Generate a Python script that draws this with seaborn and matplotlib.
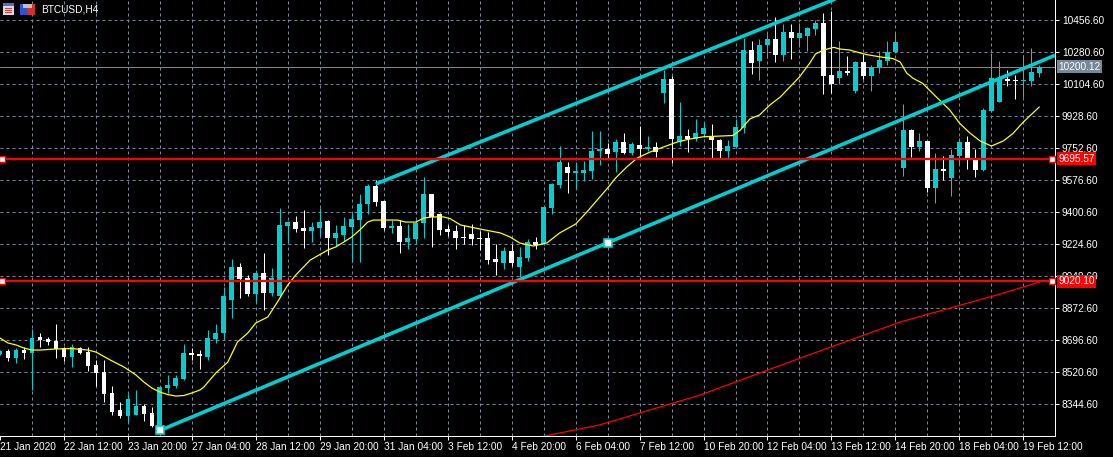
import numpy as np
import pandas as pd
import matplotlib
matplotlib.use("Agg")
import matplotlib.pyplot as plt
import matplotlib.transforms as mtransforms
from matplotlib.patches import Rectangle
import seaborn as sns

# BTCUSD H4 candles, bar 0 is the half-visible one at the left edge
opens = [8623, 8638, 8601, 8641, 8628, 8713, 8704, 8693, 8654, 8605,
         8654, 8634, 8561, 8522, 8407, 8313, 8280, 8287, 8335, 8297,
         8221, 8434, 8445, 8485, 8627, 8621, 8605, 8704, 8737, 8918,
         9100, 9039, 8951, 9067, 8957, 8940, 9325, 9347, 9314, 9298,
         9314, 9353, 9259, 9276, 9320, 9358, 9446, 9545, 9463, 9314,
         9325, 9237, 9253, 9341, 9501, 9391, 9309, 9298, 9264, 9281,
         9259, 9259, 9144, 9122, 9187, 9100, 9149, 9237, 9226, 9424,
         9550, 9649, 9616, 9616, 9627, 9737, 9748, 9732, 9787, 9726,
         9770, 9748, 9759, 10056, 10133, 9787, 9820, 9803, 9831, 9820,
         9798, 9737, 9759, 9864, 10293, 10232, 10320, 10353, 10265, 10392,
         10359, 10370, 10408, 10441, 10155, 10139, 10177, 10067, 10227, 10150,
         10199, 10232, 10282, 9644, 9853, 9759, 9792, 9534, 9638, 9589,
         9710, 9787, 9699, 9633, 9957, 10007, 10133, 10128, 10122, 10122,
         10166]
highs = [8643, 8647, 8656, 8658, 8759, 8737, 8715, 8786, 8658, 8676,
         8660, 8660, 8588, 8588, 8445, 8357, 8401, 8423, 8346, 8331,
         8442, 8506, 8506, 8676, 8654, 8643, 8753, 8786, 8990, 9144,
         9122, 9056, 9083, 9177, 9094, 9424, 9353, 9380, 9413, 9347,
         9424, 9356, 9331, 9375, 9397, 9501, 9556, 9578, 9465, 9358,
         9358, 9336, 9358, 9594, 9503, 9397, 9331, 9331, 9331, 9336,
         9297, 9292, 9226, 9209, 9226, 9209, 9253, 9264, 9435, 9561,
         9765, 9677, 9677, 9682, 9847, 9847, 9781, 9803, 9836, 9787,
         9875, 9820, 9787, 10183, 10150, 10007, 9858, 9913, 9897, 9886,
         9803, 9798, 9913, 10359, 10342, 10353, 10386, 10474, 10436, 10436,
         10441, 10419, 10458, 10496, 10507, 10342, 10260, 10232, 10271, 10210,
         10287, 10342, 10386, 9996, 9858, 9836, 9795, 9726, 9710, 9748,
         9809, 9820, 9748, 9974, 10276, 10232, 10183, 10155, 10265, 10304,
         10210]
lows = [8616, 8584, 8573, 8594, 8423, 8658, 8669, 8601, 8584, 8551,
        8623, 8528, 8447, 8359, 8286, 8267, 8249, 8286, 8253, 8221,
        8201, 8408, 8434, 8480, 8588, 8539, 8588, 8682, 8709, 8819,
        8929, 8940, 8907, 8863, 8940, 8935, 9237, 9292, 9204, 9237,
        9270, 9166, 9215, 9243, 9127, 9127, 9391, 9435, 9303, 9287,
        9177, 9198, 9235, 9259, 9209, 9276, 9270, 9198, 9226, 9220,
        9193, 9116, 9056, 9088, 9105, 9044, 9132, 9198, 9220, 9391,
        9534, 9506, 9528, 9572, 9583, 9660, 9699, 9622, 9721, 9715,
        9704, 9737, 9704, 10001, 9671, 9765, 9732, 9792, 9814, 9699,
        9699, 9699, 9755, 9836, 10161, 10128, 10249, 10227, 10232, 10243,
        10309, 10287, 10375, 10051, 10056, 10106, 10155, 10056, 10133, 10067,
        10166, 10210, 10278, 9600, 9704, 9737, 9512, 9451, 9578, 9490,
        9666, 9638, 9594, 9628, 9955, 10005, 10095, 10023, 10034, 10095,
        10144]
closes = [8638, 8601, 8643, 8628, 8709, 8700, 8687, 8649, 8606, 8660,
          8627, 8557, 8518, 8403, 8302, 8280, 8374, 8335, 8293, 8227,
          8440, 8451, 8489, 8627, 8616, 8610, 8709, 8737, 8940, 9100,
          9034, 8951, 9067, 8957, 9039, 9331, 9347, 9309, 9298, 9320,
          9347, 9259, 9287, 9325, 9364, 9446, 9545, 9457, 9314, 9325,
          9237, 9259, 9341, 9501, 9375, 9303, 9292, 9259, 9259, 9253,
          9253, 9138, 9127, 9187, 9122, 9154, 9237, 9220, 9429, 9556,
          9677, 9616, 9627, 9633, 9737, 9748, 9721, 9787, 9726, 9776,
          9748, 9759, 9732, 10133, 9803, 9820, 9803, 9836, 9864, 9798,
          9737, 9765, 9869, 10293, 10221, 10320, 10353, 10265, 10392, 10359,
          10386, 10414, 10441, 10150, 10106, 10177, 10166, 10227, 10150, 10199,
          10238, 10282, 10337, 9853, 9759, 9792, 9534, 9638, 9627, 9715,
          9787, 9699, 9633, 9963, 10139, 10139, 10122, 10122, 10128, 10172,
          10200.12]

# yellow moving average (bar position, price)
ma_fast_bar = [0, 1, 2, 3, 4, 5, 7, 9, 11, 12, 13.8, 15.5, 17, 18, 19, 20, 21, 22, 23, 24,
               25, 25.5, 27, 28.5, 29.7, 31, 32, 33.5, 34.7, 36, 37, 38.8, 41, 42, 43, 44,
               45, 46, 46.7, 49.7, 50.7, 52, 53, 54, 55.5, 56.3, 57.6, 60, 62.6, 63.8, 65,
               66.7, 68.4, 70, 72, 73.4, 74.7, 76, 77, 78.4, 79.7, 81.3, 83, 84.7, 86.3, 88,
               91.7, 92.6, 93.8, 95, 96.3, 97.6, 98.8, 100, 101.3, 102, 103, 104.3, 105,
               106.3, 107.6, 108.4, 110, 111.7, 112.6, 113.4, 114.2, 115.4, 117, 118.8,
               120, 121.3, 122.6, 124, 125.5, 126.7, 128, 130]
ma_fast = [8709, 8682, 8671, 8654, 8643, 8643, 8649, 8651, 8643, 8632, 8588, 8550, 8506,
           8467, 8434, 8412, 8398, 8390, 8393, 8407, 8423, 8440, 8517, 8577, 8687, 8737,
           8792, 8825, 8907, 9001, 9056, 9138, 9193, 9210, 9237, 9265, 9303, 9347, 9358,
           9358, 9347, 9347, 9369, 9375, 9375, 9366, 9331, 9309, 9287, 9265, 9232, 9215,
           9232, 9287, 9336, 9402, 9468, 9534, 9589, 9650, 9699, 9732, 9760, 9787, 9804,
           9816, 9823, 9853, 9914, 9936, 9991, 10035, 10090, 10145, 10222, 10271, 10293,
           10308, 10299, 10293, 10277, 10268, 10256, 10246, 10227, 10167, 10138, 10110,
           10040, 9963, 9892, 9837, 9793, 9765, 9793, 9834, 9897, 9980]

# red moving average (bar position, price)
ma_slow_bar = [67, 75, 87.6, 100.1, 112.6, 125.1, 130]
ma_slow = [8160, 8231, 8396, 8599, 8797, 8951, 9017]

# channel anchors (bar, price)
lower_bars = [20, 76]
lower_prices = [8201, 9233]
upper_bars = [47, 88]
upper_prices = [9556, 10282]

levels = [9695.57, 9020.10]
last_price = 10200.12

y_ticks = [8344.6, 8520.6, 8696.6, 8872.6, 9048.6, 9224.6, 9400.6, 9576.6,
           9752.6, 9928.6, 10104.6, 10280.6, 10456.6]
x_tick_bars = [0, 8, 16, 24, 32, 40, 48, 56, 64, 72, 80, 88, 96, 104, 112, 120, 128]
x_tick_labels = ["21 Jan 2020", "22 Jan 12:00", "23 Jan 20:00", "27 Jan 04:00",
                 "28 Jan 12:00", "29 Jan 20:00", "31 Jan 04:00", "3 Feb 12:00",
                 "4 Feb 20:00", "6 Feb 04:00", "7 Feb 12:00", "10 Feb 20:00",
                 "12 Feb 04:00", "13 Feb 12:00", "14 Feb 20:00", "18 Feb 04:00",
                 "19 Feb 12:00"]

CYAN = "#00CED1"
GRID = "#778899"
W, H = 1113, 457
PX = 0.72  # one pixel in points at dpi 100

sns.set_theme(style="dark", rc={"axes.facecolor": "black", "figure.facecolor": "black"})
plt.rcParams["font.family"] = ["Liberation Sans", "DejaVu Sans"]

fig = plt.figure(figsize=(W / 100, H / 100), dpi=100, facecolor="black")
ax = fig.add_axes([0, (H - 436) / H, 1055 / W, 436 / H])
ax.set_facecolor("black")
x_left, x_right = 0.7 / 8, 1055.7 / 8
ax.set_xlim(x_left, x_right)
ax.set_ylim(8170.25, 10568.25)

# grid
for b in range(4, 132, 4):
    ax.axvline(b, color=GRID, lw=PX, ls=(0, (3, 3)), zorder=0)
for t in y_ticks:
    ax.axhline(t, color=GRID, lw=PX, ls=(0, (3, 3)), zorder=0)

# candles
df = pd.DataFrame({"open": opens, "high": highs, "low": lows, "close": closes})
df["bar"] = np.arange(len(df))
colors = np.where(df["close"] >= df["open"], CYAN, "white")
ax.vlines(df["bar"], df["low"], df["high"], colors=colors, lw=PX, zorder=2)
body_low = df[["open", "close"]].min(axis=1)
body_h = (df["close"] - df["open"]).abs().clip(lower=6)
ax.bar(df["bar"], body_h, bottom=body_low, width=0.6, color=colors, lw=0, zorder=3)

# moving averages
sns.lineplot(x=ma_fast_bar, y=ma_fast, color="yellow", lw=0.9, ax=ax,
             estimator=None, sort=False, zorder=4)
sns.lineplot(x=ma_slow_bar, y=ma_slow, color="red", lw=0.9, ax=ax,
             estimator=None, sort=False, zorder=4)

# trend channel rays
for bars, prices, marks in [(lower_bars, lower_prices, True), (upper_bars, upper_prices, False)]:
    slope = (prices[1] - prices[0]) / (bars[1] - bars[0])
    end = prices[0] + slope * (x_right - bars[0])
    ax.plot([bars[0], x_right], [prices[0], end], color=CYAN, lw=2.6,
            solid_capstyle="butt", zorder=5)
    if marks:
        ax.plot(bars, prices, ls="none", marker="s", ms=5.8, mfc="white",
                mec=CYAN, mew=1.2, zorder=6)

# horizontal levels
blend = mtransforms.blended_transform_factory(ax.transAxes, ax.transData)
ax.axhline(last_price, color=GRID, lw=PX, zorder=1)
for lv in levels:
    ax.axhline(lv, color="red", lw=1.6, zorder=5)
    ax.plot([2 / 1055, 1052 / 1055], [lv, lv], ls="none", marker="s", ms=4.5,
            mfc="white", mec="red", mew=1.0, transform=blend, clip_on=False, zorder=7)
    ax.text(1.003, lv, f"{lv:.2f}", transform=blend, color="white", fontsize=7.3,
            va="center", ha="left", zorder=8, clip_on=False,
            bbox=dict(boxstyle="square,pad=0.15", fc="red", ec="none"))
ax.text(1.003, last_price, f"{last_price:.2f}", transform=blend, color="white",
        fontsize=7.3, va="center", ha="left", zorder=8, clip_on=False,
        bbox=dict(boxstyle="square,pad=0.15", fc=GRID, ec="none"))

# axes
ax.yaxis.tick_right()
ax.set_yticks(y_ticks)
ax.set_yticklabels([f"{t:.2f}" for t in y_ticks])
ax.set_xticks(x_tick_bars)
ax.set_xticklabels(x_tick_labels)
for lbl in ax.get_xticklabels():
    lbl.set_horizontalalignment("left")
ax.tick_params(axis="both", colors="white", labelcolor="white", labelsize=7.3,
               length=3, width=PX)
ax.tick_params(axis="y", pad=2, left=False, right=True)
ax.tick_params(axis="x", pad=1.5, bottom=True)
ax.grid(False)
for side in ["top", "left"]:
    ax.spines[side].set_visible(False)
for side in ["right", "bottom"]:
    ax.spines[side].set_color("white")
    ax.spines[side].set_linewidth(PX)
ax.set_xlabel("")
ax.set_ylabel("")


def px_rect(x, y, w, h, color):
    fig.add_artist(Rectangle((x / W, 1 - (y + h) / H), w / W, h / H,
                             transform=fig.transFigure, color=color, lw=0, zorder=10))


# title icons
px_rect(3, 3, 11, 12, "#d8d8e8")
px_rect(3, 3, 11, 3, "#5070c0")
px_rect(5, 8, 7, 1, "#d04040")
px_rect(5, 10, 7, 1, "#d04040")
px_rect(5, 12, 7, 1, "#d04040")
px_rect(20, 4, 7, 11, "#3050d0")
px_rect(27, 4, 8, 11, "#d03030")
px_rect(23, 4, 9, 4, "#c0c0c0")
fig.text(41 / W, 1 - 9.5 / H, "BTCUSD,H4", color="white", fontsize=7.3, va="center",
         ha="left", zorder=11)

fig.savefig("out.png", dpi=100, facecolor="black")
